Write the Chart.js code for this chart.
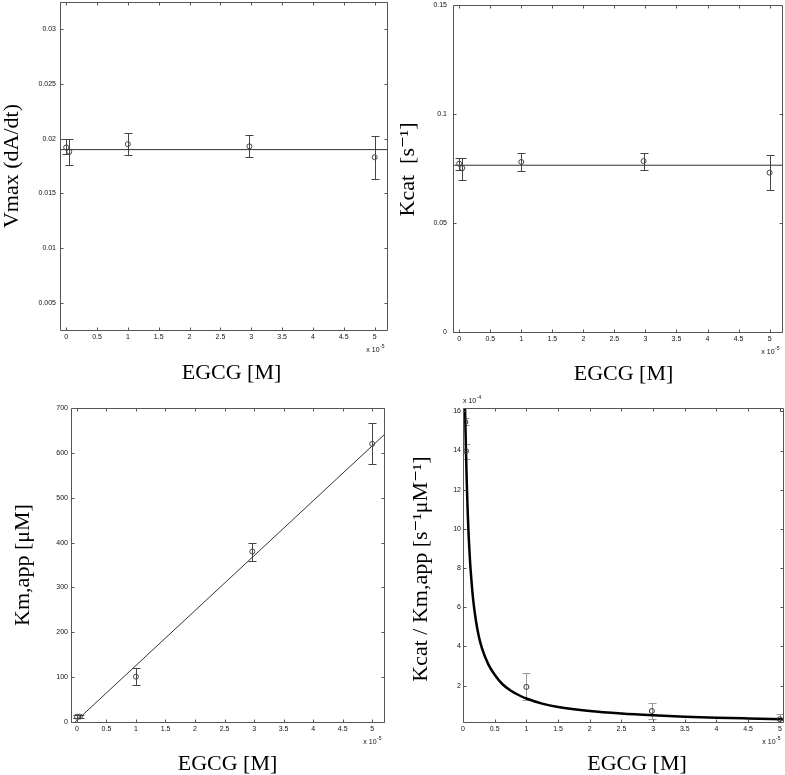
<!DOCTYPE html>
<html>
<head>
<meta charset="utf-8">
<script src="https://cdn.jsdelivr.net/npm/chart.js@4.4.1/dist/chart.umd.min.js"></script>
<style>
  html, body { margin: 0; padding: 0; background: #ffffff; }
  body { width: 785px; height: 775px; position: relative; overflow: hidden; }
  canvas { position: absolute; }
</style>
</head>
<body>
<canvas id="c1" width="392" height="392" style="left:0px;top:0px;width:392px;height:392px"></canvas>
<canvas id="c2" width="393" height="392" style="left:392px;top:0px;width:393px;height:392px"></canvas>
<canvas id="c3" width="392" height="383" style="left:0px;top:392px;width:392px;height:383px"></canvas>
<canvas id="c4" width="393" height="383" style="left:392px;top:392px;width:393px;height:383px"></canvas>
<script>
// ---------- DATA (EGCG in units of 1e-5 M) ----------
const egcg = [0, 0.05, 1, 2.97, 5];

// Panel 1: Vmax (dA/dt)
const vmax = [0.0192, 0.0188, 0.0195, 0.0193, 0.0183];
const vmaxLo = [0.0186, 0.0176, 0.0185, 0.0183, 0.0163];
const vmaxHi = [0.0200, 0.0200, 0.0205, 0.0203, 0.0202];
const vmaxFitX = [-0.1, 5.2];
const vmaxFitY = [0.0190, 0.0190];

// Panel 2: Kcat [s-1]
const kcat = [0.0772, 0.0752, 0.0780, 0.0784, 0.0731];
const kcatLo = [0.0742, 0.0699, 0.0740, 0.0745, 0.0651];
const kcatHi = [0.0800, 0.0800, 0.0821, 0.0821, 0.0812];
const kcatFitX = [-0.1, 5.2];
const kcatFitY = [0.0765, 0.0765];

// Panel 3: Km,app [uM]
const kmapp = [12, 12, 101, 380, 620];
const kmappLo = [9, 9, 82, 360, 575];
const kmappHi = [15, 15, 120, 399, 666];
const kmFitX = [-0.03, 5.2];
const kmFitY = [0, 640];

// Panel 4: Kcat / Km,app (x 1e-4)
const effX = [0.037, 0.047, 1, 2.98, 5];
const eff = [15.45, 13.97, 1.93, 0.70, 0.28];
const effLo = [15.3, 13.58, 1.25, 0.29, 0.0];
const effHi = [15.65, 14.33, 2.66, 1.09, 0.57];
const effCurveX = [0.028, 0.037, 0.047, 0.06, 0.075, 0.09, 0.11, 0.13, 0.16, 0.2, 0.25, 0.3, 0.4, 0.5, 0.62, 0.75, 0.9, 1.0, 1.25, 1.5, 2.0, 2.5, 3.0, 3.5, 4.0, 4.5, 5.05];
const effCurveY = [16.6, 15.4, 14.0, 12.3, 10.8, 9.6, 8.4, 7.5, 6.4, 5.4, 4.5, 3.9, 3.08, 2.55, 2.08, 1.75, 1.48, 1.34, 1.08, 0.91, 0.70, 0.57, 0.48, 0.41, 0.36, 0.32, 0.28];

// Tick values & labels
const xTicks = [0, 0.5, 1, 1.5, 2, 2.5, 3, 3.5, 4, 4.5, 5];
const xTickLabels = ['0', '0.5', '1', '1.5', '2', '2.5', '3', '3.5', '4', '4.5', '5'];
const y1Ticks = [0.005, 0.01, 0.015, 0.02, 0.025, 0.03];
const y1TickLabels = ['0.005', '0.01', '0.015', '0.02', '0.025', '0.03'];
const y2Ticks = [0, 0.05, 0.1, 0.15];
const y2TickLabels = ['0', '0.05', '0.1', '0.15'];
const y3Ticks = [0, 100, 200, 300, 400, 500, 600, 700];
const y3TickLabels = ['0', '100', '200', '300', '400', '500', '600', '700'];
const y4Ticks = [2, 4, 6, 8, 10, 12, 14, 16];
const y4TickLabels = ['2', '4', '6', '8', '10', '12', '14', '16'];

// ---------- helpers ----------
const pts = (xs, ys) => xs.map((x, i) => ({ x: x, y: ys[i] }));
const TICK_FONT = { family: "'Liberation Sans', Arial, sans-serif", size: 7 };
const TITLE_FONT = { family: "'Liberation Serif', 'DejaVu Serif', 'Times New Roman', serif", size: 22, lineHeight: 1 };

const errorBarPlugin = {
  id: 'errorBars',
  beforeDatasetsDraw(chart) {
    const ctx = chart.ctx, xs = chart.scales.x, ys = chart.scales.y, a = chart.chartArea;
    ctx.save();
    ctx.beginPath();
    ctx.rect(a.left, a.top, a.right - a.left, a.bottom - a.top);
    ctx.clip();
    chart.data.datasets.forEach(ds => {
      if (!ds.errLo) return;
      ctx.strokeStyle = ds.errColor || '#444';
      ctx.lineWidth = 1;
      const cap = ds.capHalf || 4;
      ds.data.forEach((p, i) => {
        const px = Math.round(xs.getPixelForValue(p.x)) + 0.5;
        const yl = Math.round(ys.getPixelForValue(ds.errLo[i])) + 0.5;
        const yh = Math.round(ys.getPixelForValue(ds.errHi[i])) + 0.5;
        ctx.beginPath();
        ctx.moveTo(px, yl); ctx.lineTo(px, yh);
        ctx.moveTo(px - cap, yl); ctx.lineTo(px + cap, yl);
        ctx.moveTo(px - cap, yh); ctx.lineTo(px + cap, yh);
        ctx.stroke();
      });
    });
    ctx.restore();
  }
};

const framePlugin = {
  id: 'frame',
  afterDraw(chart, args, opts) {
    const ctx = chart.ctx, xs = chart.scales.x, ys = chart.scales.y, a = chart.chartArea;
    const L = Math.round(a.left) + 0.5, R = Math.round(a.right) + 0.5;
    const T = Math.round(a.top) + 0.5, B = Math.round(a.bottom) + 0.5;
    const tl = 3;
    ctx.save();
    ctx.strokeStyle = '#555';
    ctx.lineWidth = 1;
    ctx.beginPath();
    ctx.rect(L, T, R - L, B - T);
    xs.ticks.forEach(t => {
      const px = Math.round(xs.getPixelForValue(t.value)) + 0.5;
      ctx.moveTo(px, B); ctx.lineTo(px, B - tl);
      ctx.moveTo(px, T); ctx.lineTo(px, T + tl);
    });
    ys.ticks.forEach(t => {
      const py = Math.round(ys.getPixelForValue(t.value)) + 0.5;
      ctx.moveTo(L, py); ctx.lineTo(L + tl, py);
      ctx.moveTo(R, py); ctx.lineTo(R - tl, py);
    });
    ctx.stroke();
    // exponent labels
    ctx.fillStyle = '#111';
    ctx.textBaseline = 'middle';
    const drawExp = (text, sup, x, y, align) => {
      ctx.font = "7px 'Liberation Sans', Arial, sans-serif";
      const w1 = ctx.measureText(text).width;
      ctx.font = "5px 'Liberation Sans', Arial, sans-serif";
      const w2 = ctx.measureText(sup).width;
      const x0 = align === 'right' ? x - w1 - w2 : x;
      ctx.textAlign = 'left';
      ctx.font = "7px 'Liberation Sans', Arial, sans-serif";
      ctx.fillText(text, x0, y);
      ctx.font = "5px 'Liberation Sans', Arial, sans-serif";
      ctx.fillText(sup, x0 + w1 + 0.5, y - 3);
    };
    if (opts.xExp) drawExp('x 10', opts.xExp, a.right - 3, a.bottom + 20, 'right');
    if (opts.yExp) drawExp('x 10', opts.yExp, a.left, a.top - 7, 'left');
    ctx.restore();
  }
};

// shift an axis title by (dx, dy) pixels while keeping it a library-drawn scale title
function shiftTitle(scale, dx, dy) {
  if (!dx && !dy) return;
  scale.drawTitle = function () {
    const c = this.ctx;
    c.save();
    c.translate(dx, dy);
    Object.getPrototypeOf(this).drawTitle.call(this);
    c.restore();
  };
}

function makeChart(id, cfg) {
  const ctx = document.getElementById(id);
  return new Chart(ctx, {
    type: 'scatter',
    data: { datasets: cfg.datasets },
    options: {
      responsive: false,
      animation: false,
      devicePixelRatio: 1,
      layout: { padding: cfg.padding, autoPadding: false },
      plugins: {
        legend: { display: false },
        tooltip: { enabled: false },
        title: { display: false },
        frame: { xExp: cfg.xExp, yExp: cfg.yExp }
      },
      scales: {
        x: {
          type: 'linear', position: 'bottom',
          min: cfg.xMin, max: cfg.xMax,
          grid: { display: false, drawTicks: false },
          border: { display: false },
          afterBuildTicks: s => { s.ticks = xTicks.map(v => ({ value: v })); },
          afterFit: s => { s.height = cfg.xH; s.paddingLeft = 0; s.paddingRight = 0; s.paddingTop = 0; s.paddingBottom = 0; shiftTitle(s, cfg.xTitleDx, 0); },
          ticks: {
            autoSkip: false, maxRotation: 0, minRotation: 0, padding: 3,
            color: '#111', font: TICK_FONT,
            callback: (v, i) => xTickLabels[i]
          },
          title: { display: true, text: 'EGCG [M]', color: '#000', font: TITLE_FONT, padding: { top: 0, bottom: 0 } }
        },
        y: {
          type: 'linear', position: 'left',
          min: cfg.yMin, max: cfg.yMax,
          grid: { display: false, drawTicks: false },
          border: { display: false },
          afterBuildTicks: s => { s.ticks = cfg.yTicks.map(v => ({ value: v })); },
          afterFit: s => { s.width = cfg.yW; s.paddingTop = 0; s.paddingBottom = 0; s.paddingLeft = 0; s.paddingRight = 0; shiftTitle(s, 0, cfg.yTitleDy); },
          ticks: {
            autoSkip: false, padding: cfg.yPad,
            color: '#111', font: TICK_FONT,
            callback: (v, i) => cfg.yTickLabels[i]
          },
          title: { display: true, text: cfg.yTitle, color: '#000', font: TITLE_FONT, padding: { top: 1, bottom: 0 } }
        }
      }
    },
    plugins: [errorBarPlugin, framePlugin]
  });
}

function fitSet(xs, ys, color, width) {
  return { data: pts(xs, ys), showLine: true, borderColor: color, borderWidth: width,
           pointRadius: 0, fill: false, tension: 0, order: 2 };
}
function pointSet(xs, ys, lo, hi, color, errColor) {
  return { data: pts(xs, ys), showLine: false, pointRadius: 2.5, pointStyle: 'circle',
           borderColor: color, backgroundColor: 'rgba(0,0,0,0)', borderWidth: 1, pointBorderWidth: 1,
           errLo: lo, errHi: hi, errColor: errColor, capHalf: 4, order: 1 };
}

makeChart('c1', {
  padding: { left: 0, right: 5, top: 2, bottom: 8 }, yW: 60, xH: 54, yPad: 4, xTitleDx: 8, yTitleDy: 0,
  xMin: -0.1, xMax: 5.2, yMin: 0.0025, yMax: 0.0325,
  yTicks: y1Ticks, yTickLabels: y1TickLabels, yTitle: 'Vmax (dA/dt)', xExp: '-5',
  datasets: [fitSet(vmaxFitX, vmaxFitY, '#333', 1), pointSet(egcg, vmax, vmaxLo, vmaxHi, '#444', '#444')]
});

makeChart('c2', {
  padding: { left: 4, right: 3, top: 5, bottom: 7 }, yW: 57, xH: 53, yPad: 6, xTitleDx: 6, yTitleDy: 1,
  xMin: -0.1, xMax: 5.2, yMin: 0, yMax: 0.15,
  yTicks: y2Ticks, yTickLabels: y2TickLabels, yTitle: 'Kcat  [s\u207B\u00B9]', xExp: '-5',
  datasets: [fitSet(kcatFitX, kcatFitY, '#333', 1), pointSet(egcg, kcat, kcatLo, kcatHi, '#444', '#444')]
});

makeChart('c3', {
  padding: { left: 11, right: 8, top: 16, bottom: 0 }, yW: 60, xH: 53, yPad: 3, xTitleDx: 0, yTitleDy: 0,
  xMin: -0.1, xMax: 5.2, yMin: 0, yMax: 700,
  yTicks: y3Ticks, yTickLabels: y3TickLabels, yTitle: 'Km,app [\u03BCM]', xExp: '-5',
  datasets: [fitSet(kmFitX, kmFitY, '#333', 1), pointSet(egcg, kmapp, kmappLo, kmappHi, '#444', '#444')]
});

makeChart('c4', {
  padding: { left: 17, right: 2, top: 16, bottom: 0 }, yW: 54, xH: 53, yPad: 2, xTitleDx: 14, yTitleDy: 4,
  xMin: 0, xMax: 5.05, yMin: 0.14, yMax: 16.17,
  yTicks: y4Ticks, yTickLabels: y4TickLabels, yTitle: 'Kcat / Km,app [s\u207B\u00B9\u03BCM\u207B\u00B9]', xExp: '-5', yExp: '-4',
  datasets: [
    Object.assign(fitSet(effCurveX, effCurveY, '#000', 2.5), { cubicInterpolationMode: 'monotone' }),
    pointSet(effX, eff, effLo, effHi, '#333', '#999')
  ]
});
</script>
</body>
</html>
